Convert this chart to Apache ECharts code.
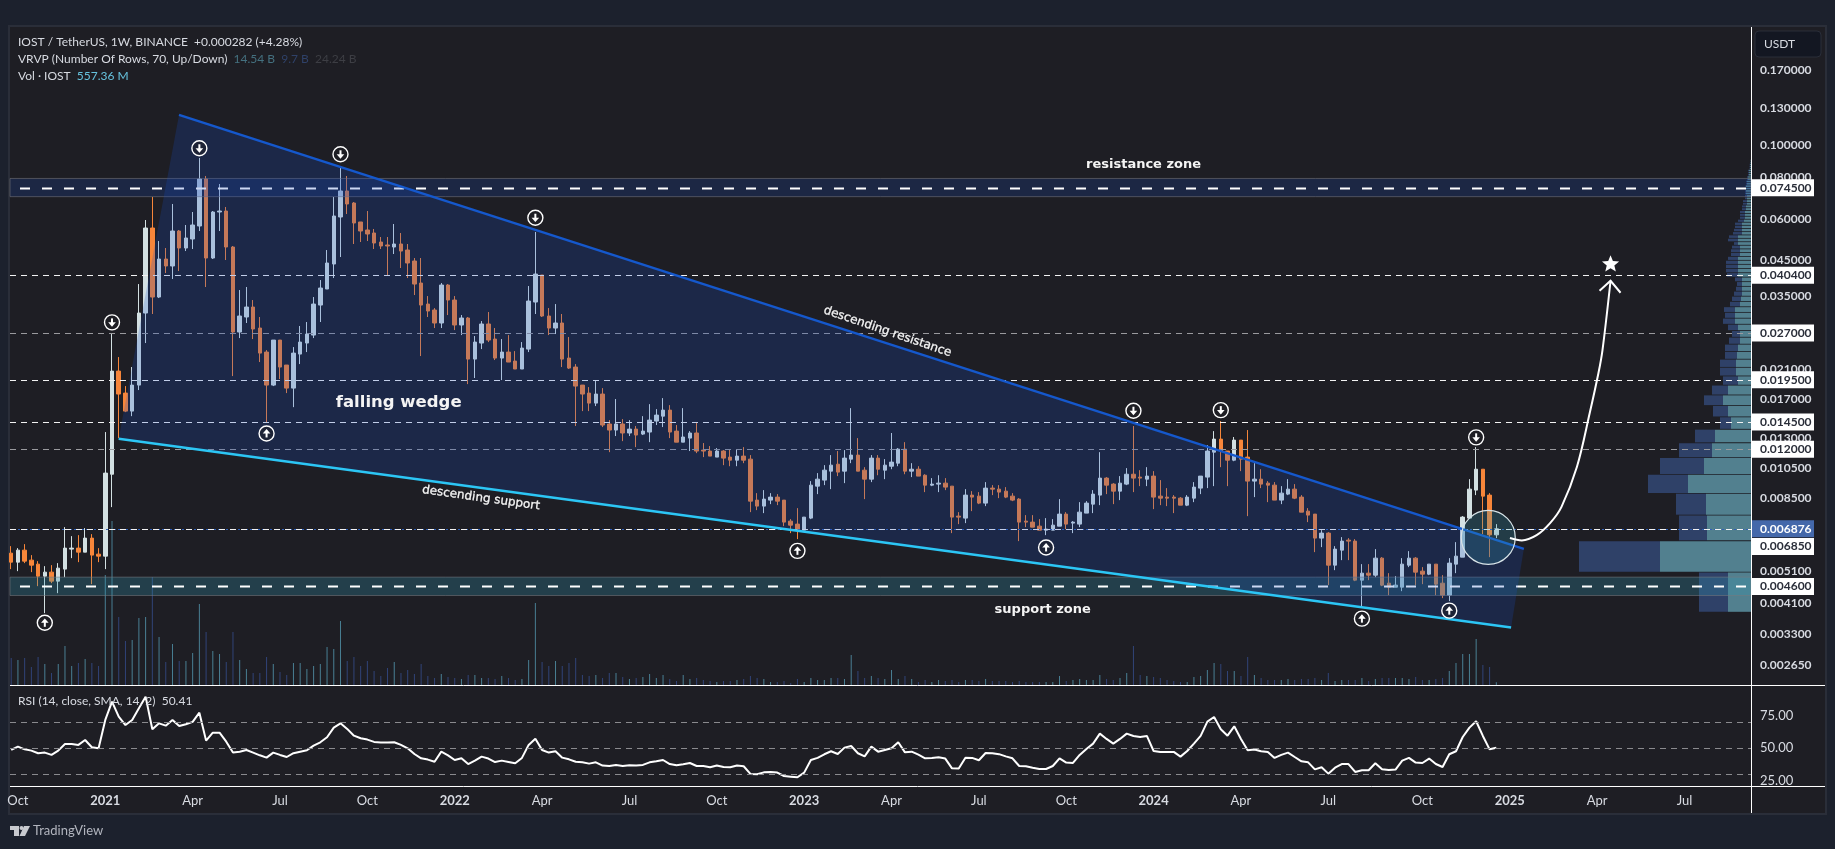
<!DOCTYPE html>
<html><head><meta charset="utf-8">
<style>html,body{margin:0;padding:0;background:#1c212d}#c{width:1835px;height:849px}</style>
<script src="https://cdn.jsdelivr.net/npm/echarts@6/dist/echarts.min.js"></script>
</head><body><div id="c"></div>
<script>
// ---- data ----------------------------------------------------------------
const firstWeek = -14;            // weeks before the week of 2021-01-04
const candles = [ // open, close, low, high (weekly)
[.005803,.005449,.00519,.006094],[.005449,.005926,.005117,.00601],[.005926,.005488,.005412,.00618],[.005526,.005336,.005082,.005723],[.005374,.004942,.004608,.005488],[.004942,.005082,.003816,.005299],[.005082,.004772,.004705,.005336],[.004772,.005226,.004388,.005412],[.00519,.00601,.004907,.006959],[.005968,.00601,.005604,.006535],[.00601,.005844,.005449,.006581],[.005844,.006445,.005844,.006911],[.006445,.005723,.004673,.006627],[.005763,.005683,.005449,.00601],
[.005683,.01015,.00519,.01352],[.01007,.0207,.008003,.027],[.0207,.01763,.01296,.02283],[.01775,.01565,.01554,.01864],[.01565,.01877,.01511,.02129],[.01877,.03105,.01813,.03802],[.03105,.05624,.02518,.05947],[.05624,.03472,.03084,.06984],[.03472,.04528,.03448,.05135],[.04528,.04313,.04106,.0489],[.04313,.05507,.03938,.06651],[.05507,.0489,.04164,.05546],[.0489,.05245,.04788,.05743],[.05208,.05743,.04856,.06289],[.05703,.0792,.05507,.09172],[.0792,.0456,.03724,.08088],[.0456,.06289,.04528,.06333],[.06289,.06333,.05507,.07648],[.06333,.04924,.04497,.06513],[.04924,.02719,.01999,.04959],[.02719,.03041,.02607,.03646],[.0302,.03238,.02896,.03724],[.03238,.02777,.02589,.034],[.02796,.02347,.02205,.0302],[.02364,.01877,.0144,.02397],[.01877,.02571,.01864,.02571],[.02571,.02129,.01958,.02571],[.02159,.01838,.01775,.02159],[.01838,.02347,.01609,.02448],[.02331,.02535,.02174,.02836],[.02518,.02681,.02364,.02916],[.02662,.03306,.02607,.03472],[.03283,.03698,.02916,.0391],[.03672,.04404,.03672,.04822],[.04373,.06115,.03965,.06984],[.06073,.07283,.04592,.08673],[.07283,.06651,.06201,.08088],[.06697,.05824,.05029,.06744],[.05865,.05507,.05099,.05865],[.05546,.05393,.05135,.06333],[.05431,.05064,.04856,.05585],[.05099,.04959,.04856,.05281],[.04994,.04959,.04049,.05281],[.04924,.05029,.04689,.05783],[.05029,.04788,.04253,.05431],[.04822,.04404,.03965,.05029],[.04466,.03802,.03521,.0456],[.03829,.03283,.02299,.0456],[.03306,.03149,.0302,.03496],[.03171,.02896,.02796,.03215],[.02896,.03776,.02796,.03829],[.03776,.034,.03062,.03802],[.034,.02856,.02757,.03496],[.02856,.02999,.02662,.03062],[.02999,.02251,.0189,.0302],[.02251,.02535,.01972,.02644],[.02518,.02876,.02414,.02936],[.02876,.02571,.02535,.03127],[.02589,.02267,.02236,.02796],
[.02267,.02364,.01944,.02589],[.02364,.02205,.02205,.02662],[.0222,.021,.021,.0238],[.021,.02431,.021,.02535],[.02414,.03376,.02364,.0375],[.03353,.04077,.03084,.05469],[.04049,.03041,.0302,.04049],[.03041,.02796,.02662,.03215],[.02796,.02896,.02681,.03306],[.02896,.02251,.02129,.03084],[.02267,.02114,.021,.02626],[.02129,.01864,.0141,.02174],[.01877,.01763,.01565,.01877],[.01775,.01655,.01565,.01851],[.01655,.01763,.01621,.01944],[.01763,.0142,.014,.01838],[.0143,.01371,.01175,.0147],[.01371,.0143,.01315,.01703],[.0143,.01343,.01269,.0148],[.01343,.0138,.01315,.0147],[.0138,.01324,.01217,.0141],[.01333,.01361,.01324,.01511],[.01352,.0147,.0126,.01643],[.0146,.01522,.0142,.01587],[.01511,.01576,.014,.01714],[.01576,.01352,.01296,.01632],[.01361,.0126,.0126,.0142],[.0126,.01306,.0126,.01598],[.01296,.01343,.01184,.01361],[.01343,.01184,.01167,.0144],[.01192,.01184,.01135,.01252],[.01184,.01143,.01143,.01226],[.01135,.01184,.01135,.01209],[.01184,.01127,.01073,.01192],[.01135,.01111,.01065,.012],[.01111,.01143,.01065,.012],[.01143,.01111,.01088,.01217],[.01119,.008345,.007728,.01151],[.008404,.008059,.007837,.008825],[.008059,.008463,.007675,.009012],[.008404,.008582,.008172,.008825],[.008582,.008345,.008115,.008764],[.008404,.007207,.007008,.008404],[.007257,.007057,.006674,.00736],[.007107,.006815,.0064,.007947],[.006815,.007463,.006815,.007463],[.007411,.009332,.00736,.009597],[.009267,.00973,.008764,.01015],[.009664,.01036,.009332,.01073],[.01029,.01073,.009075,.01151],[.0108,.01022,.00994,.01184],[.01029,.01127,.009463,.01192],[.01119,.01151,.01088,.01598],[.01151,.01029,.01029,.01296],[.01036,.00973,.008463,.01058],[.00973,.01127,.00953,.01151],[.01127,.01043,.01,.01151],[.01036,.01073,.00973,.01119],[.01065,.01096,.01043,.01343],[.01088,.012,.01065,.01209],[.012,.01029,.01007,.0126],[.01029,.01043,.00987,.01088],[.01043,.00994,.00994,.01065],[.01,.009332,.008887,.01007],[.009332,.009398,.009267,.0098],[.009398,.009463,.008887,.01],[.009463,.009203,.009012,.0098],[.009267,.007463,.006674,.009267],[.007515,.007463,.007107,.007728],[.007411,.008703,.007157,.009075],[.008703,.008582,.007782,.008949],[.008642,.00823,.008172,.008887],[.00823,.009139,.008059,.00953],[.009139,.009075,.008703,.009332],[.009075,.008887,.008522,.009332],[.008949,.008582,.008522,.009203],[.008642,.008404,.008345,.008825],[.008463,.007207,.006311,.008522],[.007257,.007207,.006959,.007568],[.007207,.006959,.006959,.007568],[.007008,.006815,.006815,.00736],[.006815,.006863,.006581,.007411],[.006815,.007057,.006815,.00736],[.007008,.007621,.007008,.008463],[.007621,.007107,.006863,.007728],[.007157,.007207,.006674,.007257],[.007107,.007728,.006959,.008287],[.007675,.00823,.007675,.008345],[.008172,.008764,.007675,.009012],[.008703,.0098,.008115,.01175],[.0098,.009332,.008764,.00987],[.009398,.008949,.008172,.009463],[.008949,.009463,.008404,.00994],[.009398,.01007,.009332,.01051],[.01007,.0098,.008887,.0141],[.00987,.0098,.009267,.01036],[.00973,.00994,.009267,.01058],[.00994,.008582,.007892,.01029],[.008642,.008522,.008115,.009664],[.008582,.008522,.008059,.009139],[.008582,.008522,.007675,.008703],[.008522,.008115,.008115,.008582],[.008115,.008582,.008059,.008703],[.008522,.009203,.008287,.00953],[.009139,.00994,.008764,.00994],[.00987,.01184,.009139,.01234],[.01175,.01287,.009267,.01361],[.01287,.01184,.01058,.0146],[.01184,.01111,.009267,.01184],[.01111,.01278,.01103,.01306],[.01278,.01119,.01029,.01278],[.01135,.009597,.007515,.01371],[.009597,.00973,.008582,.01088],[.00973,.009398,.009139,.01043],[.009463,.009332,.008287,.009597],[.009332,.008404,.008404,.00953],[.008404,.008825,.008172,.009267],[.008764,.009075,.008703,.00973],[.009075,.008522,.008463,.009398],[.008582,.007728,.007728,.008703],[.007782,.007568,.007207,.007947],[.007621,.006445,.005844,.007621],[.006445,.006674,.006052,.006815],[.006674,.005336,.00464,.006721],[.005336,.005968,.005153,.006094],[.005926,.006311,.005526,.00649],[.006355,.006311,.005526,.006445],[.006311,.004805,.004772,.0064],[.004805,.005046,.00398,.005374],[.005046,.004976,.004805,.005374],[.004976,.005604,.004907,.005968],[.005604,.00464,.004608,.005643],[.004705,.004576,.004327,.005046],[.004576,.00464,.004576,.004942],[.004576,.005374,.00445,.005604],[.005336,.005604,.005263,.005885],[.005604,.005082,.00464,.005643],[.005117,.005011,.004673,.005263],[.005011,.005374,.004976,.005374],[.005374,.004673,.004327,.005374],[.004705,.004327,.004238,.004976],[.004327,.005412,.00415,.005604],[.005374,.005683,.005046,.006267],[.005643,.007463,.005643,.007515],[.007411,.009075,.007411,.00973],[.009012,.01043,.008703,.01217],[.01043,.008642,.006627,.01043],[.008703,.006594,.005643,.008825],[.006594,.006876,.006445,.007107]
];
const volumesB = [ // weekly volume, billions of IOST
5.4,5,5.4,3.6,5.6,4.2,2.4,4.2,7.8,3.8,4.4,5.2,4.4,3.8,
22,32.8,13.6,8.8,9,13.4,13.6,21.6,9.6,4.6,8.2,4.8,4.8,6.4,16.2,10.6,6.8,6.2,4.6,10.6,5,3.2,2.4,2.4,5.6,4.2,2.6,2,4.4,4.4,3.2,3.8,4.2,7.6,7.2,12.8,4.8,5.6,3.8,4.8,2.8,1.8,3.4,4.6,2.4,3,2.2,4.2,1.8,1.4,2.2,1.6,1.4,1.2,2,2,1.4,1.4,1.2,
1.8,1.4,1,1.2,5,16.4,4.6,3.8,4.8,3.8,4.4,5.4,2,1.8,2,1.4,2.4,2.4,1.6,1.2,1.4,1.6,2.2,1.4,2,1.2,.8,2,1.2,1.4,1,.8,.6,.8,.8,1,1.2,1.8,1.4,1.2,.6,.6,.8,.4,1.2,.6,1.4,1,1,1.4,1.4,1.2,6,2.8,1.4,1.8,1.4,1.2,3,1.2,1.8,1.2,.6,1,.6,1,.8,1,.6,1,1,.8,1.2,.8,.8,.8,
.6,.8,.6,.6,.6,.6,.6,1.8,.8,1,1.2,1,1,2,1.2,1,1.4,2.4,7.8,2,1.8,1.6,1.4,1,.8,.6,.6,1.6,1.8,3,4.4,4.2,2.8,2.8,1.8,5.6,2,1.4,1,1,1,1.2,1,1.2,1.2,1.4,1,2.4,.8,1,1,1,1.4,.8,1.2,1.4,1.4,1.4,1.4,1.2,1.6,1,1,1.2,1.4,2.8,4.4,6.2,6.2,9.2,4,3.6,.557
];
const rsiValues = [
48.7,51.3,49.2,48.2,46.2,46.7,44.9,48.2,53.3,53.3,52.6,56.4,50.8,50,
71.8,85.9,74.4,67.9,71.8,80.8,89.7,64.6,69.2,67.4,71.8,67.2,68.5,70.3,77.4,55.9,62,62,55.1,46.7,47.4,48.7,46.7,44.6,42.8,46.7,44.9,43.3,46.2,47.4,48.5,52.1,54.6,58.5,65.9,69.2,64.9,59.7,57.7,56.7,54.9,54.4,54.4,54.6,52.6,50,45.6,42.3,41.3,39.7,47.4,44.6,41,42.3,37.9,40.5,43.6,42.1,39.4,
40.5,39.5,38.5,42.6,52.6,57.4,48.7,46.7,47.7,42.8,41.5,39.7,39.2,38.2,39.2,36.7,36.4,37.2,36.4,36.9,36.7,37.2,39.2,40,41,37.9,36.9,37.7,38.7,36.4,36.4,35.4,36.7,35.6,35.4,36.7,36.2,30.3,30,31.5,31.8,31.3,28.7,28.2,27.7,31.3,41,42.6,45.4,47.7,45.6,50.5,51.8,46.2,43.8,51.3,47.4,48.7,50,54.6,46.9,47.4,45.1,42.3,42.6,43.1,42.1,34.6,34.4,42.8,42.6,40.8,46.4,46.2,45.5,43.8,
42.3,36.4,36.2,35.1,34.1,34.1,36.4,42.3,39,38.7,44.9,49.5,53.6,61.3,57.2,53.6,57.2,61.3,59.5,58.7,59.5,47.9,47.2,47.2,47.2,43.6,47.9,53.6,59.5,70.5,74.1,64.6,59.7,66.9,57.2,48.5,49,47.7,47.2,42.6,44.9,46.7,43.3,40,39.2,33.8,35.4,30.5,35.1,37.9,37.9,31.8,33.1,33.1,38.5,33.8,33.3,33.6,40.5,42.6,39,38.7,42.1,37.9,35.6,45.4,47.7,58.7,65.9,70.8,59.5,49.2,50.41
];
// volume profile: rows of equal price height, bottom row first
const vpRowStart = 0.00383, vpRowStep = 0.00124;
const vpUp = [23,91,44,45,63,47,39,36,20,23,28,23,13,15,15,14,13,11,11,13,16,16,16,11,10,9,9,9,9,13,13,13,13,13,11,11,11,13,13,13,9,9,9,9,7,6,6,6,5,5,4,4,4,4,5,5,5,5,4,4,3,3,2,2,2,1,1,1,.8,.5];
const vpDown = [29,81,28,30,40,44,33,20,11,15,19,16,15,16,16,12,13,11,8,10,12,10,11,10,9,8,6,5,7,11,12,12,12,10,9,9,8,4,10,9,9,8,7,7,6,5,5,5,4,4,4,4,2,2,1,1,.5,.5,1,1,1,1,1,1,1,.5,.5,.3,.2,0];

const priceTicks = [0.17,0.13,0.1,0.08,0.06,0.045,0.035,0.021,0.017,0.013,0.0105,0.0085,0.0051,0.0041,0.0033,0.00265];
const priceTags = [0.0745,0.0404,0.027,0.0195,0.0145,0.012,0.0046];
const nudgedTag = 0.00685;
const lastPrice = 0.006876;
const timeTickDates = ['2020-10-05','2021-01-04','2021-04-05','2021-07-05','2021-10-04','2022-01-03','2022-04-04','2022-07-04','2022-10-03','2023-01-02','2023-04-03','2023-07-03','2023-10-02','2024-01-01','2024-04-01','2024-07-01','2024-10-07','2025-01-06','2025-04-07','2025-07-07'];
const timeTickLabels = ['Oct','2021','Apr','Jul','Oct','2022','Apr','Jul','Oct','2023','Apr','Jul','Oct','2024','Apr','Jul','Oct','2025','Apr','Jul'];
const rsiTicks = [25,50,75], rsiBands = [70,50,30];

// drawn objects, [weeks from 2021-01-04, price]
const wedgeResistance = [[10.97,0.1239],[211.1,0.00598]];
const wedgeSupport = [[1.99,0.0129],[209.2,0.003453]];
const resistanceZone = [0.07,0.0795], supportZone = [0.004316,0.004908];
const boldLevels = [0.0745,0.0046];
const whiteLevels = [0.0404,0.0195,0.0145,0.00685];
const greyLevels = [0.027,0.012];
const arrowsDown = [[1,.02909],[14,.09816],[35,.09413],[64,.06043],[153,.01569],[166,.01576],[204,.01303]];
const arrowsUp = [[-9,.003567],[24,.01339],[103,.005897],[140,.006038],[187,.003672],[200,.003883]];
const targetCircle = [205.8,0.006477];
const forecastPath = [[209.03,.006448],[210.8,.006343],[213,.00658],[215,.007157],[216.7,.00802],[219,.010606],[220.9,.01544],[222.2,.020417],[222.8,.02397],[224,.03891]];
const star = [224,0.04364];
const notes = [
  {text:'falling wedge',k:43.66,p:.01659,rot:0,size:16.5,weight:'bold'},
  {text:'resistance zone',k:154.5,p:.08735,rot:0,size:13,weight:'bold'},
  {text:'support zone',k:139.5,p:.00392,rot:0,size:13,weight:'bold'},
  {text:'descending resistance',k:116.4,p:.02725,rot:.33,size:12,weight:'normal'},
  {text:'descending support',k:55.9,p:.008522,rot:.14,size:12,weight:'normal'}
];

// ---- chart ----------------------------------------------------------------
const BASE = Date.UTC(2021,0,4), WEEK = 7*864e5;
const wt = k => BASE + k*WEEK;
const xMin = wt(-14.18), xMax = wt(244.9);
const UI = 'Lato,"Noto Sans",sans-serif', TXT = '#d8dbe2';
const UP = '#d3e0e2', DOWN = '#f7863a';
const weeks = candles.map((_,i)=>wt(firstWeek+i));
const one = (z, renderItem, extra) => Object.assign({type:'custom',xAxisIndex:0,yAxisIndex:0,z,silent:true,clip:false,
  data:[[wt(0),0.01]],encode:{x:0,y:1},renderItem},extra||{});

function lineShape(x1,y,x2,stroke,width,dash){return {type:'line',shape:{x1,y1:y,x2,y2:y},style:{stroke,lineWidth:width,lineDash:dash}};}

const option = {
  animation:false, backgroundColor:'#1c212d',
  grid:[{left:10,right:84,top:27,height:658},{left:10,right:84,top:686,height:100}],
  xAxis:[
    {type:'value',gridIndex:0,min:xMin,max:xMax,axisLine:{show:false},axisTick:{show:false},axisLabel:{show:false},splitLine:{show:false}},
    {type:'value',gridIndex:1,min:xMin,max:xMax,axisLine:{show:false},axisTick:{show:false},splitLine:{show:false},
      axisLabel:{customValues:timeTickDates.map(d=>Date.parse(d+'T00:00:00Z')),margin:8,hideOverlap:false,showMinLabel:true,showMaxLabel:true,
        formatter:(v)=>{const i=timeTickDates.findIndex(d=>Date.parse(d+'T00:00:00Z')===v);const s=timeTickLabels[i];return /^\d/.test(s)?'{y|'+s+'}':'{m|'+s+'}';},
        rich:{y:{fontFamily:UI,fontSize:13,fontWeight:'bold',color:TXT},m:{fontFamily:UI,fontSize:13,color:TXT}}}},
    {type:'value',gridIndex:0,inverse:true,min:0,max:1741,show:false}
  ],
  yAxis:[
    {type:'log',gridIndex:0,min:0.00231,max:0.229,position:'right',axisLine:{show:false},axisTick:{show:false},axisLabel:{show:false},splitLine:{show:false},minorSplitLine:{show:false}},
    {type:'value',gridIndex:1,min:21,max:97.9,position:'right',axisLine:{show:false},axisTick:{show:false},splitLine:{show:false},
      axisLabel:{customValues:rsiTicks,margin:9,color:TXT,fontFamily:UI,fontSize:13,formatter:v=>v.toFixed(2)}},
    {type:'value',gridIndex:0,min:0,max:131.6,show:false}
  ],
  series:[
    // volume
    {type:'bar',xAxisIndex:0,yAxisIndex:2,z:1,barWidth:1,silent:true,
      data:volumesB.map((v,i)=>({value:[weeks[i],v],itemStyle:{color:candles[i][1]>=candles[i][0]?'rgba(88,160,185,.75)':'rgba(52,74,135,.85)'}}))},
    // volume profile
    {type:'custom',xAxisIndex:2,yAxisIndex:0,z:1,silent:true,clip:false,encode:{x:0,y:1},
      data:vpUp.map((u,i)=>[u,vpRowStart+i*vpRowStep,vpDown[i]]),
      renderItem:(p,api)=>{const u=api.value(0),lo=api.value(1),d=api.value(2);
        const a=api.coord([0,lo]),b=api.coord([u,lo+vpRowStep]),e=api.coord([u+d,lo]);
        const h=Math.max(a[1]-b[1]-0.8,0.8);
        return {type:'group',children:[
          {type:'rect',shape:{x:b[0],y:b[1],width:a[0]-b[0],height:h},style:{fill:'#52808f'}},
          {type:'rect',shape:{x:e[0],y:b[1],width:b[0]-e[0],height:h},style:{fill:'#2f4168'}}]};}},
    // candles
    {type:'candlestick',xAxisIndex:0,yAxisIndex:0,z:2,silent:true,barWidth:4,encode:{x:0,y:[1,2,3,4]},
      data:candles.map((c,i)=>[weeks[i],c[0],c[1],c[2],c[3]]),
      itemStyle:{color:UP,color0:DOWN,borderColor:UP,borderColor0:DOWN,borderWidth:1}},
    // zones
    one(3,(p,api)=>{const c=p.coordSys;
      const draw=(z,fill)=>{const a=api.coord([wt(0),z[1]])[1],b=api.coord([wt(0),z[0]])[1];
        return {type:'rect',shape:{x:c.x,y:a,width:c.width,height:b-a},style:{fill,stroke:'rgba(120,120,125,.55)',lineWidth:1}};};
      return {type:'group',children:[draw(resistanceZone,'rgba(21,76,202,.2)'),draw(supportZone,'rgba(50,150,175,.28)')]};}),
    // horizontal levels
    one(4,(p,api)=>{const c=p.coordSys,x1=c.x+10,x2=c.x+c.width,ch=[];
      const Y=v=>Math.round(api.coord([wt(0),v])[1])+0.5;
      ch.push(lineShape(c.x,Y(lastPrice),x2,'#2e5fb8',1,[2,2]));
      boldLevels.forEach(v=>ch.push(lineShape(x1,Y(v),x2,'#ffffff',2,[10,12])));
      whiteLevels.forEach(v=>ch.push(lineShape(c.x,Y(v),x2,'#f2f2f2',1,[6,5])));
      greyLevels.forEach(v=>ch.push(lineShape(c.x,Y(v),x2,'#9a9a9e',1,[6,5])));
      return {type:'group',children:ch};}),
    // wedge
    one(5,(p,api)=>{const C=q=>api.coord([wt(q[0]),q[1]]);
      const a=C(wedgeResistance[0]),b=C(wedgeResistance[1]),d=C(wedgeSupport[1]),e=C(wedgeSupport[0]);
      return {type:'group',children:[
        {type:'polygon',shape:{points:[a,b,d,e]},style:{fill:'rgba(21,76,202,.22)'}},
        {type:'line',shape:{x1:a[0],y1:a[1],x2:b[0],y2:b[1]},style:{stroke:'#1558cc',lineWidth:2.4}},
        {type:'line',shape:{x1:e[0],y1:e[1],x2:d[0],y2:d[1]},style:{stroke:'#2cc6f5',lineWidth:2.4}}]};}),
    // highlighted circle
    one(6,(p,api)=>{const a=api.coord([wt(targetCircle[0]),targetCircle[1]]);
      return {type:'circle',shape:{cx:a[0],cy:a[1],r:27},style:{fill:'rgba(50,150,175,.25)',stroke:'#d8e4e8',lineWidth:1.2}};}),
    // forecast curve
    {type:'line',xAxisIndex:0,yAxisIndex:0,z:7,silent:true,symbol:'none',smooth:0.35,clip:false,
      data:forecastPath.map(q=>[wt(q[0]),q[1]]),lineStyle:{color:'#ffffff',width:2}},
    // arrowhead and star
    one(7,(p,api)=>{const last=forecastPath[forecastPath.length-1];const t=api.coord([wt(last[0]),last[1]]),s=api.coord([wt(star[0]),star[1]]);
      const pts=[];for(let i=0;i<10;i++){const r=i%2?4:9,a=-Math.PI/2+i*Math.PI/5;pts.push([s[0]+r*Math.cos(a),s[1]+r*Math.sin(a)]);}
      return {type:'group',children:[
        {type:'polyline',shape:{points:[[t[0]-11,t[1]+10],[t[0],t[1]],[t[0]+10,t[1]+12]]},style:{stroke:'#fff',lineWidth:2,fill:'none'}},
        {type:'polygon',shape:{points:pts},style:{fill:'#fff'}}]};}),
    // arrow badges
    {type:'custom',xAxisIndex:0,yAxisIndex:0,z:8,silent:true,clip:false,encode:{x:0,y:1},
      data:arrowsDown.map(a=>[wt(a[0]),a[1],1]).concat(arrowsUp.map(a=>[wt(a[0]),a[1],-1])),
      renderItem:(p,api)=>{const a=api.coord([api.value(0),api.value(1)]),s=api.value(2),x=a[0],y=a[1];
        return {type:'group',children:[
          {type:'circle',shape:{cx:x,cy:y,r:7.5},style:{fill:'rgba(30,30,36,.5)',stroke:'#fff',lineWidth:1.4}},
          {type:'line',shape:{x1:x,y1:y-4*s,x2:x,y2:y+1*s},style:{stroke:'#fff',lineWidth:2}},
          {type:'polygon',shape:{points:[[x-3.8,y],[x+3.8,y],[x,y+4.4*s]]},style:{fill:'#fff'}}]};}},
    // text notes
    {type:'custom',xAxisIndex:0,yAxisIndex:0,z:9,silent:true,clip:false,encode:{x:0,y:1},
      data:notes.map(n=>[wt(n.k),n.p]),
      renderItem:(p,api)=>{const n=notes[p.dataIndex],a=api.coord([api.value(0),api.value(1)]);
        return {type:'text',x:a[0],y:a[1],rotation:-n.rot,style:{x:0,y:0,text:n.text,fill:'#f4f4f4',align:'center',verticalAlign:'middle',
          stroke:n.weight==='normal'?'#f4f4f4':null,lineWidth:n.weight==='normal'?0.3:0,
          font:n.weight+' '+n.size+'px "DejaVu Sans",sans-serif'}};}},
    // price scale text
    {type:'custom',xAxisIndex:0,yAxisIndex:0,z:9,silent:true,clip:false,encode:{x:0,y:1},
      data:priceTicks.map(v=>[wt(0),v]),
      renderItem:(p,api)=>{const c=p.coordSys,y=api.coord([wt(0),api.value(1)])[1];
        return {type:'text',x:c.x+c.width+9,y,style:{text:api.value(1).toFixed(6),fill:TXT,align:'left',verticalAlign:'middle',font:'bold 12px '+UI}};}},
    // price tags
    {type:'custom',xAxisIndex:0,yAxisIndex:0,z:10,silent:true,clip:false,encode:{x:0,y:1},
      data:priceTags.concat([nudgedTag,lastPrice]).map(v=>[wt(0),v]),
      renderItem:(p,api)=>{const c=p.coordSys,v=api.value(1);let y=api.coord([wt(0),v])[1];
        const isLast=v===lastPrice; if(v===nudgedTag) y+=17;
        const X=c.x+c.width;
        return {type:'group',children:[
          {type:'rect',shape:{x:X,y:y-8.5,width:63,height:17},style:{fill:isLast?'#4468aa':'#ffffff'}},
          {type:'text',x:X+9,y,style:{text:v.toFixed(6),fill:isLast?'#ffffff':'#2a2e39',align:'left',verticalAlign:'middle',font:'bold 12px '+UI}}]};}},
    // RSI
    {type:'line',xAxisIndex:1,yAxisIndex:1,z:3,silent:true,symbol:'none',
      data:rsiValues.map((v,i)=>[weeks[i],v]),lineStyle:{color:'#ffffff',width:2},
      markLine:{silent:true,symbol:'none',label:{show:false},animation:false,
        lineStyle:{color:'#8a8a8e',type:[6,5],width:1},data:rsiBands.map(v=>({yAxis:v}))}}
  ],
  graphic:[
    {type:'rect',z:-10,silent:true,shape:{x:9,y:26,width:1817,height:788},style:{fill:'#1e1e24',stroke:'#2a2e39',lineWidth:2}},
    {type:'line',z:60,silent:true,shape:{x1:10,y1:685.5,x2:1825,y2:685.5},style:{stroke:'#fff',lineWidth:1}},
    {type:'line',z:60,silent:true,shape:{x1:10,y1:786.5,x2:1825,y2:786.5},style:{stroke:'#fff',lineWidth:1}},
    {type:'line',z:60,silent:true,shape:{x1:1751.5,y1:27,x2:1751.5,y2:813},style:{stroke:'#fff',lineWidth:1}},
    {type:'rect',z:60,silent:true,shape:{x:1755,y:31,width:66,height:26,r:4},style:{fill:'#131722',stroke:'#2a2e39',lineWidth:1}},
    {type:'text',z:61,silent:true,x:1764,y:44,style:{text:'USDT',fill:TXT,font:'12px '+UI,verticalAlign:'middle'}},
    {type:'text',z:61,silent:true,x:18,y:42,style:{font:'12px '+UI,verticalAlign:'middle',text:'{a|IOST / TetherUS, 1W, BINANCE}  {a|+0.000282 (+4.28%)}',
      rich:{a:{fill:TXT,font:'12px '+UI}}}},
    {type:'text',z:61,silent:true,x:18,y:59,style:{font:'12px '+UI,verticalAlign:'middle',text:'{a|VRVP (Number Of Rows, 70, Up/Down)}  {b|14.54 B}  {c|9.7 B}  {d|24.24 B}',
      rich:{a:{fill:TXT,font:'12px '+UI},b:{fill:'#44707f',font:'12px '+UI},c:{fill:'#2f4168',font:'12px '+UI},d:{fill:'#3d3e44',font:'12px '+UI}}}},
    {type:'text',z:61,silent:true,x:18,y:76,style:{font:'12px '+UI,verticalAlign:'middle',text:'{a|Vol · IOST}  {b|557.36 M}',
      rich:{a:{fill:TXT,font:'12px '+UI},b:{fill:'#66c2dd',font:'12px '+UI}}}},
    {type:'text',z:61,silent:true,x:18,y:701,style:{font:'12px '+UI,verticalAlign:'middle',text:'{a|RSI (14, close, SMA, 14, 2)}  {a|50.41}',rich:{a:{fill:TXT,font:'12px '+UI}}}},
    // TradingView mark
    {type:'polygon',z:61,silent:true,shape:{points:[[10,826],[19,826],[19,836],[14,836],[14,830],[10,830]]},style:{fill:'#c8cacf'}},
    {type:'circle',z:61,silent:true,shape:{cx:21.5,cy:828,r:2},style:{fill:'#c8cacf'}},
    {type:'polygon',z:61,silent:true,shape:{points:[[24,826],[30,826],[25,836],[19.5,836]]},style:{fill:'#c8cacf'}},
    {type:'text',z:61,silent:true,x:33,y:831,style:{text:'TradingView',fill:'#b2b5be',font:'13px '+UI,verticalAlign:'middle'}}
  ]
};
const chart = echarts.init(document.getElementById('c'),null,{renderer:'canvas',width:1835,height:849});
chart.setOption(option);
</script></body></html>
